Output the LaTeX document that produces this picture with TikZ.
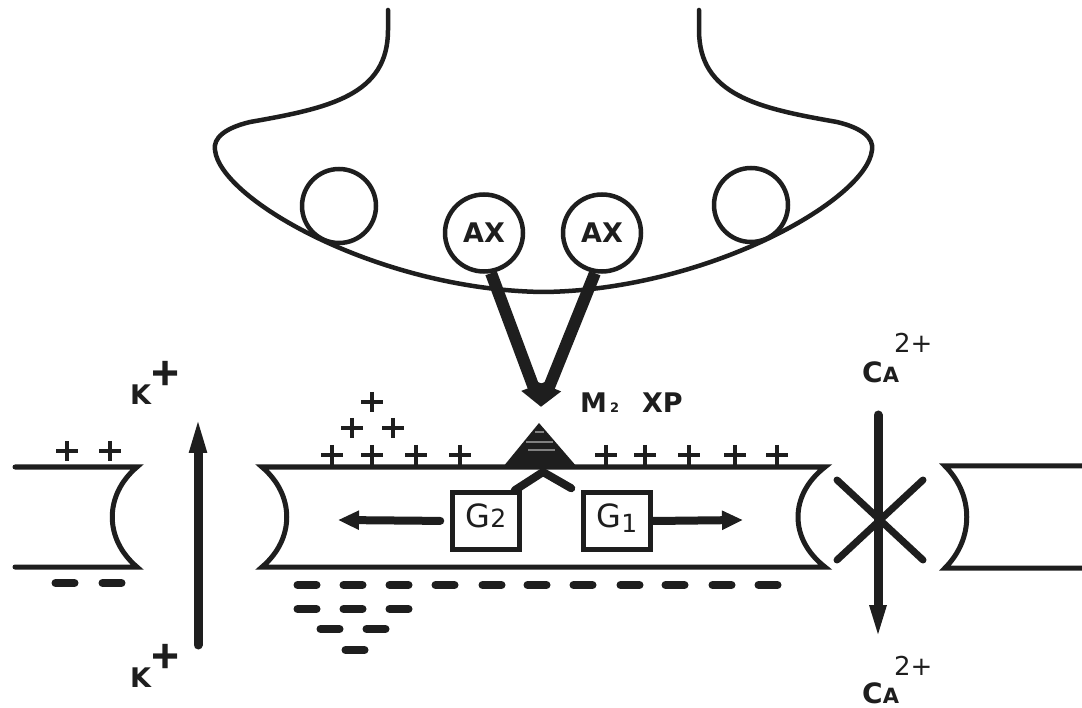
\documentclass[tikz,border=0pt]{standalone}
\usepackage{fontspec}
\setmainfont{DejaVu Sans}
\newfontfamily\libfont{Liberation Sans}
\usetikzlibrary{arrows.meta,shapes.geometric}
\definecolor{ink}{HTML}{1E1E1E}
\begin{document}
\begin{tikzpicture}[x=1pt,y=-1pt,
  memb/.style={draw=ink,line width=5pt,line cap=round,line join=miter},
  outline/.style={draw=ink,line width=4.5pt,line cap=round},
  vesicle/.style={ellipse,draw=ink,line width=4.5pt,inner sep=0pt,minimum width=74pt,minimum height=74pt},
  axves/.style={vesicle,minimum width=78pt,minimum height=77pt,font=\bfseries\fontsize{27}{27}\selectfont,text=ink},
  gbox/.style={rectangle,draw=ink,line width=4.5pt,minimum width=67pt,minimum height=57pt,inner sep=0pt,text height=24pt,text depth=12pt,font=\fontsize{32}{32}\selectfont,text=ink},
  axarrow/.style={draw=ink,line width=12pt,line cap=butt,-{Triangle[length=22pt,width=24pt]}},
  garrow/.style={draw=ink,line width=8pt,line cap=round,-{Triangle[length=21pt,width=18pt]}},
  ionarrow/.style={draw=ink,line width=9pt,line cap=round,-{Triangle[length=40pt,width=15pt]}},
  xbar/.style={draw=ink,line width=7pt,line cap=round},
  vlink/.style={draw=ink,line width=8pt,line cap=round},
  lbl/.style={inner sep=0pt,anchor=base west,text=ink},
  pics/plussign/.style={code={\draw[ink,line width=4pt] (-11,0)--(11,0) (0,-10)--(0,10);}},
  pics/minussign/.style={code={\draw[ink,line width=8pt,line cap=round] (-9.5,0)--(9.5,0);}}
]
\useasboundingbox (0,0) rectangle (1082,708);
\fill[white] (0,0) rectangle (1082,708);

% presynaptic terminal
\draw[outline] (388,10) -- (388,30) .. controls (388,95) and (330,108) .. (250,122)
  .. controls (225,128) and (213,138) .. (215,150)
  .. controls (220,200) and (380,290) .. (543.5,292)
  .. controls (707,290) and (867,200) .. (872,150)
  .. controls (874,138) and (862,128) .. (837,122)
  .. controls (757,108) and (699,95) .. (699,30) -- (699,10);

% vesicles
\node[vesicle] (v1) at (339,206) {};
\node[vesicle] (v4) at (751,205) {};
\node[axves] (ax1) at (484,233) {AX};
\node[axves] (ax2) at (602,233) {AX};

% release arrows
\coordinate (tip) at (541,407);
\draw[axarrow] (ax1.-80) -- (tip);
\draw[axarrow] (ax2.-100) -- (tip);

% membranes
\draw[memb] (15,467) -- (137,467) .. controls (104,495) and (104,539) .. (137,567) -- (15,567);
\draw[memb] (262,467) -- (825,467) .. controls (789,495) and (789,539) .. (825,567) -- (262,567)
  .. controls (295,539) and (295,495) .. cycle;
\draw[memb] (1090,466) -- (945,466) .. controls (974,495) and (974,539) .. (945,568) -- (1090,568);

% receptor
\fill[ink] (539,423) -- (577,467) -- (503,467) -- cycle;
\draw[gray,line width=1.2pt] (535,432) -- (544,432) (526,442) -- (553,442) (528,450) -- (555,450);

% G proteins
\node[gbox] (G2) at (486,521) {G\fontsize{25}{25}\selectfont 2};
\node[gbox] (G1) at (617,521) {G\raisebox{-5pt}{\fontsize{25}{25}\selectfont 1}};
\coordinate (rj) at (543,472);
\draw[vlink] ([xshift=-7pt]G2.north east) -- (rj) -- ([xshift=-10pt,yshift=2pt]G1.north west);
\coordinate (la) at (338,520);
\coordinate (ra) at (743,520);
\draw[garrow,shorten <=10pt] (G2.west) -- (la);
\draw[garrow] (G1.east) -- (ra);

% charges
\foreach \x in {67,110} \pic at (\x,451) {plussign};
\foreach \x in {332,372,416,460,606,645,689,735,777} \pic at (\x,455) {plussign};
\foreach \x in {352,393} \pic at (\x,428) {plussign};
\pic at (372,402) {plussign};
\foreach \x in {65,112} \pic at (\x,583) {minussign};
\foreach \x in {307,353,399,445,492,537,583,630,675,722,768} \pic at (\x,585) {minussign};
\foreach \x in {307,353,399} \pic at (\x,609) {minussign};
\foreach \x in {330,376} \pic at (\x,629) {minussign};
\pic at (355,650) {minussign};

% K channel
\coordinate (kb) at (198,645);
\coordinate (kt) at (198,413);
\draw[ionarrow] (kb) -- (kt);
\node[lbl,font=\bfseries\fontsize{27}{27}\selectfont] (k1) at (130,405) {K\raisebox{15pt}{\libfont\fontsize{48}{48}\selectfont +}};
\node[lbl,font=\bfseries\fontsize{27}{27}\selectfont] (k2) at (130,687) {K\raisebox{15pt}{\libfont\fontsize{48}{48}\selectfont +}};

% Ca channel (blocked)
\coordinate (ct) at (878,415);
\coordinate (cb) at (878,645);
\draw[ionarrow,-{Triangle[length=40pt,width=14pt]}] (ct) -- (cb);
\coordinate (x1) at (837,480);
\coordinate (x2) at (923,560);
\coordinate (x3) at (923,480);
\coordinate (x4) at (837,560);
\draw[xbar] (x1) -- (x2);
\draw[xbar] (x3) -- (x4);
\node[lbl] (ca1) at (862,383) {{\bfseries\fontsize{28}{28}\selectfont C\fontsize{21}{21}\selectfont A}\kern-5pt\raisebox{30pt}{\fontsize{26}{26}\selectfont 2+}};
\node[lbl] (ca2) at (862,703) {{\bfseries\fontsize{28}{28}\selectfont C\fontsize{21}{21}\selectfont A}\kern-5pt\raisebox{28pt}{\fontsize{26}{26}\selectfont 2+}};

% receptor label
\node[lbl,font=\bfseries\fontsize{27}{27}\selectfont] (m2) at (580,413) {M\kern3pt{\fontsize{13}{13}\selectfont 2}\hspace{23pt}XP};
\end{tikzpicture}
\end{document}
